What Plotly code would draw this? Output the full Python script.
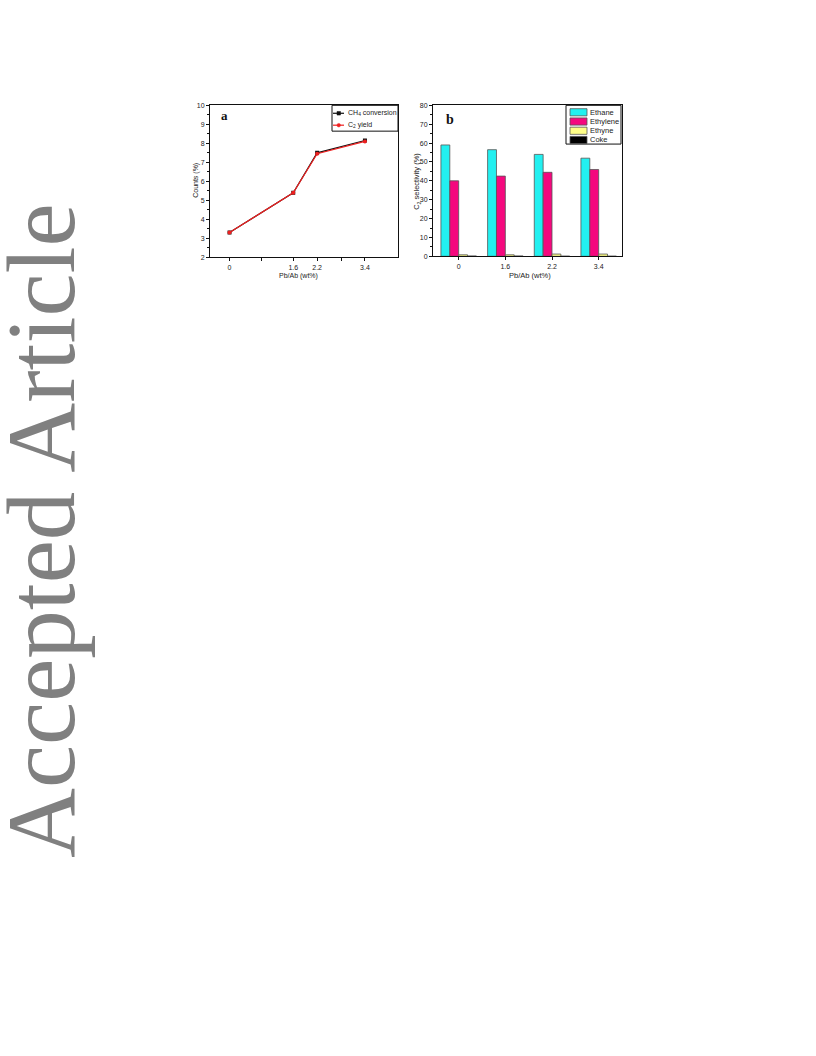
import plotly.graph_objects as go

# ---------------- data ----------------
loading_a = [0, 1.6, 2.2, 3.4]
ch4_conversion = [3.3, 5.4, 7.5, 8.15]
c2_yield = [3.3, 5.4, 7.45, 8.1]

categories_b = ["0", "1.6", "2.2", "3.4"]
ethane = [59, 56.5, 54, 52]
ethylene = [40, 42.5, 44.5, 46]
ethyne = [0.8, 0.8, 1.2, 1.2]
coke = [0.2, 0.2, 0.1, 0.1]

series_b_names = ["Ethane", "Ethylene", "Ethyne", "Coke"]
series_b_colors = ["#22F0F0", "#F5087E", "#FFFF88", "#000000"]

W, H = 816, 1056
def px(x):
    return x / W
def py(y):
    return 1 - y / H

FONT = "Liberation Sans, Arial, sans-serif"
TICKFONT = dict(family=FONT, size=7, color="#222")

fig = go.Figure()

# panel a lines
fig.add_trace(go.Scatter(x=loading_a, y=ch4_conversion, mode="lines+markers",
                         line=dict(color="#111", width=1.2),
                         marker=dict(symbol="square", size=4, color="#111"),
                         xaxis="x", yaxis="y", showlegend=False))
fig.add_trace(go.Scatter(x=loading_a, y=c2_yield, mode="lines+markers",
                         line=dict(color="#EE2020", width=1.2),
                         marker=dict(symbol="circle", size=4, color="#EE2020"),
                         xaxis="x", yaxis="y", showlegend=False))

# panel b bars
for name, vals, col in zip(series_b_names, [ethane, ethylene, ethyne, coke], series_b_colors):
    fig.add_trace(go.Bar(x=categories_b, y=vals, name=name, marker=dict(color=col, line=dict(color="#555", width=0.8)),
                         xaxis="x2", yaxis="y2", showlegend=False))

axis_common = dict(showline=True, linecolor="#111", linewidth=1, mirror=True, ticks="outside",
                   ticklen=3, tickwidth=1, tickcolor="#111", tickfont=TICKFONT, showgrid=False,
                   zeroline=False)

fig.update_layout(
    width=W, height=H, margin=dict(l=0, r=0, t=0, b=0),
    paper_bgcolor="white", plot_bgcolor="white",
    barmode="group", bargap=0.24, bargroupgap=0.0,
    xaxis=dict(domain=[px(210), px(398)], range=[-0.49, 4.23],
               tickmode="array", tickvals=loading_a, ticktext=["0", "1.6", "2.2", "3.4"],
               minor=dict(tickmode="array", tickvals=[0.8, 2.8], ticks="outside", ticklen=3, tickcolor="#111"),
               anchor="y", **axis_common),
    yaxis=dict(domain=[py(255), py(102)], range=[2, 10], dtick=1, anchor="x",
               minor=dict(dtick=0.5, ticks="outside", ticklen=2, tickcolor="#111"), **axis_common),
    xaxis2=dict(domain=[px(433), px(622)], range=[-0.55, 3.5], type="category", anchor="y2", **axis_common),
    yaxis2=dict(domain=[py(254), py(102)], range=[0, 80], dtick=10, anchor="x2",
                minor=dict(dtick=5, ticks="outside", ticklen=2, tickcolor="#111"), **axis_common),
)

ann = []
shapes = []
def add_text(x, y, text, size, family=FONT, color="#222", xanchor="center", angle=0):
    ann.append(dict(x=px(x), y=py(y), xref="paper", yref="paper", text=text, showarrow=False,
                    xanchor=xanchor, yanchor="middle", textangle=angle,
                    font=dict(family=family, size=size, color=color)))

# axis titles
add_text(298, 274, "Pb/Ab (wt%)", 7)
add_text(530, 273, "Pb/Ab (wt%)", 7.5)
add_text(196, 178, "Counts (%)", 7, angle=-90)
add_text(417, 178, "C<sub>2</sub> selectivity (%)", 7.5, angle=-90)
# panel letters
SERIF = "Liberation Serif, Times New Roman, serif"
add_text(224, 112, "<b>a</b>", 13, family=SERIF, color="#111")
add_text(450, 116, "<b>b</b>", 14, family=SERIF, color="#111")

# legend a (manual)
shapes.append(dict(type="rect", xref="paper", yref="paper", x0=px(332), x1=px(398), y0=py(128), y1=py(102),
                   line=dict(color="#111", width=1), fillcolor="white"))
leg_a = [("CH<sub>4</sub> conversion", "#111", "square"), ("C<sub>2</sub> yield", "#EE2020", "circle")]
for i, (txt, col, sym) in enumerate(leg_a):
    yy = 110 + i * 12
    shapes.append(dict(type="line", xref="paper", yref="paper", x0=px(333), x1=px(344), y0=py(yy), y1=py(yy),
                       line=dict(color=col, width=1.2)))
    shapes.append(dict(type="rect" if sym == "square" else "circle", xref="paper", yref="paper",
                       x0=px(337), x1=px(340.5), y0=py(yy + 1.8), y1=py(yy - 1.8),
                       line=dict(color=col, width=0.5), fillcolor=col))
    add_text(346, yy, txt, 7, xanchor="left")

# legend b (manual)
shapes.append(dict(type="rect", xref="paper", yref="paper", x0=px(566), x1=px(621), y0=py(141), y1=py(102),
                   line=dict(color="#111", width=1), fillcolor="white"))
for i, (nm, col) in enumerate(zip(series_b_names, series_b_colors)):
    yy = 109 + i * 9.3
    shapes.append(dict(type="rect", xref="paper", yref="paper", x0=px(570), x1=px(587), y0=py(yy + 3.6), y1=py(yy - 3.6),
                       line=dict(color="#555", width=0.8), fillcolor=col))
    add_text(588, yy, nm, 7.5, xanchor="left")

# watermark
add_text(42, 530.5, "Accepted Article", 97, family=SERIF, color="#808080", angle=-90)

fig.update_layout(annotations=ann, shapes=shapes)
fig.write_html("out.html", config={"displayModeBar": False},
               post_script="document.body.style.margin='0';document.body.style.overflow='hidden';")
